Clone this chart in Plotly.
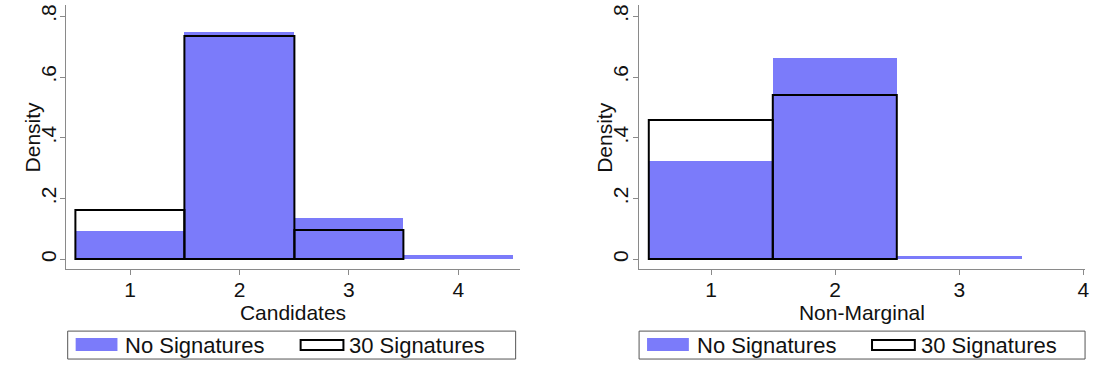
import plotly.graph_objects as go

# ---- data ----
bins = [1, 2, 3, 4]
cand_no_sig = [0.094, 0.747, 0.135, 0.014]
cand_sig30 = [0.162, 0.734, 0.096, None]
nonmarg_no_sig = [0.325, 0.663, 0.011, None]
nonmarg_sig30 = [0.457, 0.540, None, None]
y_ticks = [0, 0.2, 0.4, 0.6, 0.8]
y_tick_labels = ["0", ".2", ".4", ".6", ".8"]
x_ticks = [1, 2, 3, 4]
x_tick_labels = ["1", "2", "3", "4"]
series_names = ["No Signatures", "30 Signatures"]
panel_titles = ["Candidates", "Non-Marginal"]
y_title = "Density"

W, H = 1101, 371
BLUE = "#7b7bfa"
AXC = "#8a8a8a"
FONT = "Liberation Sans, Arial, sans-serif"
TXT = "#111111"
FS = 21
LFS = 22


def px_x(p):
    return p / W


def px_y(p):
    return (H - p) / H


fig = go.Figure()

panels = [
    ("x", "y", cand_no_sig, cand_sig30),
    ("x2", "y2", nonmarg_no_sig, nonmarg_sig30),
]
for xa, ya, nosig, sig in panels:
    fig.add_trace(go.Bar(
        x=bins, y=nosig, width=1, xaxis=xa, yaxis=ya,
        marker=dict(color=BLUE, line=dict(width=0)),
        name=series_names[0], showlegend=False,
    ))
    fig.add_trace(go.Bar(
        x=bins, y=sig, width=1, xaxis=xa, yaxis=ya,
        marker=dict(color="rgba(0,0,0,0)", line=dict(color="black", width=2)),
        name=series_names[1], showlegend=False,
    ))

ydom = [px_y(268.5), px_y(4)]
common_x = dict(
    tickmode="array", tickvals=x_ticks, ticktext=x_tick_labels,
    showline=True, linecolor=AXC, linewidth=1, ticks="outside",
    ticklen=5, tickcolor=AXC, showgrid=False, zeroline=False,
    tickfont=dict(family=FONT, size=FS, color=TXT),
    ticklabelstandoff=-3, fixedrange=True,
)
common_y = dict(
    tickmode="array", tickvals=y_ticks, ticktext=y_tick_labels,
    tickangle=-90, range=[-0.031, 0.837], domain=ydom,
    showline=True, linecolor=AXC, linewidth=1, ticks="outside",
    ticklen=5, tickcolor=AXC, showgrid=False, zeroline=False,
    tickfont=dict(family=FONT, size=FS, color=TXT),
    ticklabelstandoff=-4, fixedrange=True,
)

fig.update_layout(
    width=W, height=H, margin=dict(l=0, r=0, t=0, b=0),
    paper_bgcolor="white", plot_bgcolor="white",
    barmode="overlay", bargap=0,
    font=dict(family=FONT, size=FS, color=TXT),
    xaxis=dict(common_x, domain=[px_x(66.7), px_x(522)], range=[0.418, 4.56],
               anchor="y",
               title=dict(text=panel_titles[0], standoff=0,
                          font=dict(family=FONT, size=FS, color=TXT))),
    yaxis=dict(common_y, anchor="x"),
    xaxis2=dict(common_x, domain=[px_x(641.7), px_x(1090)], range=[0.418, 4.013],
                anchor="y2",
                title=dict(text=panel_titles[1], standoff=0,
                           font=dict(family=FONT, size=FS, color=TXT))),
    yaxis2=dict(common_y, anchor="x2"),
)

# ---- y titles and legends (one under each panel) ----
shapes = []
annotations = []
ymid = (ydom[0] + ydom[1]) / 2
for axis_px in [66.7, 641.7]:
    annotations.append(dict(xref="paper", yref="paper", x=px_x(axis_px - 34),
                            y=ymid, text=y_title, textangle=-90, showarrow=False,
                            xanchor="center", yanchor="middle",
                            font=dict(family=FONT, size=FS, color=TXT)))

for box_left, box_right in [(68, 518), (642, 1090)]:
    shapes.append(dict(type="rect", xref="paper", yref="paper",
                       x0=px_x(box_left), x1=px_x(box_right),
                       y0=px_y(359), y1=px_y(331),
                       line=dict(color="#555555", width=1), fillcolor="white",
                       layer="below"))
    shapes.append(dict(type="rect", xref="paper", yref="paper",
                       x0=px_x(box_left + 8), x1=px_x(box_left + 50),
                       y0=px_y(351), y1=px_y(338),
                       line=dict(width=0), fillcolor=BLUE))
    shapes.append(dict(type="rect", xref="paper", yref="paper",
                       x0=px_x(box_left + 234), x1=px_x(box_left + 277),
                       y0=px_y(350), y1=px_y(340),
                       line=dict(color="black", width=2), fillcolor="white"))
    annotations.append(dict(xref="paper", yref="paper", x=px_x(box_left + 56),
                            y=px_y(345), text=series_names[0], showarrow=False,
                            xanchor="left", yanchor="middle",
                            font=dict(family=FONT, size=LFS, color=TXT)))
    annotations.append(dict(xref="paper", yref="paper", x=px_x(box_left + 281),
                            y=px_y(345), text=series_names[1], showarrow=False,
                            xanchor="left", yanchor="middle",
                            font=dict(family=FONT, size=LFS, color=TXT)))

fig.update_layout(shapes=shapes, annotations=annotations)

fig.write_html("out.html")
